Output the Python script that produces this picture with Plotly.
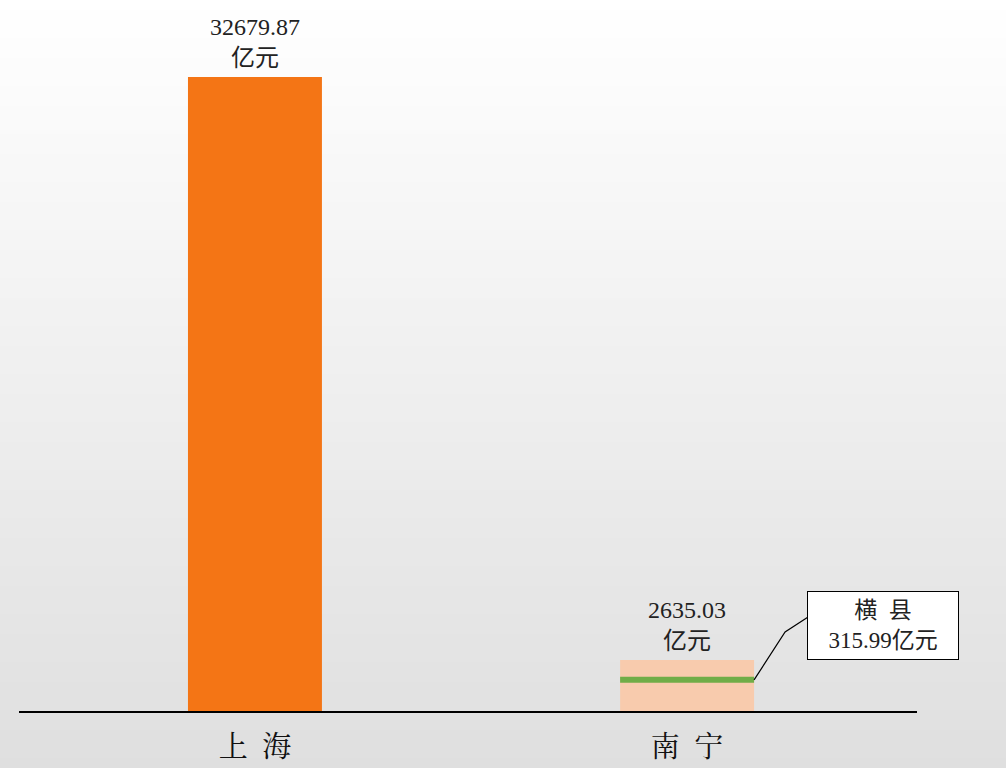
import plotly.graph_objects as go

# ---- data ----
categories = ["上海", "南宁"]
tick_labels = ["上\u2002海", "南\u2002宁"]
gdp_values = [32679.87, 2635.03]          # 亿元
value_labels = ["32679.87<br>亿元", "2635.03<br>亿元"]
hengxian_value = 315.99                   # 亿元
hengxian_label = "横\u2002县<br>315.99亿元"
hengxian_band = [1450.0, 1760.0]          # drawn level of the green marker

bar_colors = ["#f47515", "#f8cbad"]
green = "#70ad47"

W, H = 1006, 768
ml, mr, mt, mb = 19, 89, 0, 57
plot_h = H - mt - mb
y_top = gdp_values[0] * plot_h / 634.0

fig = go.Figure()

fig.add_trace(go.Bar(
    x=[0, 1], y=gdp_values, width=0.31,
    marker=dict(color=bar_colors, line=dict(width=0)),
    hoverinfo="skip",
))

# green marker for 横县 inside 南宁 bar
fig.add_trace(go.Bar(
    x=[1], y=[hengxian_band[1] - hengxian_band[0]], base=[hengxian_band[0]],
    width=0.31, marker=dict(color=green, line=dict(width=0)), hoverinfo="skip",
))

# gradient background
n = 80
y0p = -mb / plot_h
for i in range(n):
    a = y0p + (1 - y0p) * i / n
    b = y0p + (1 - y0p) * (i + 1) / n
    t = 1 - (i + 0.5) / n  # 0 at top, 1 at bottom
    c = int(round(255 - (255 - 223) * t))
    fig.add_shape(type="rect", xref="paper", yref="paper", x0=-0.05, x1=1.2,
                  y0=a, y1=b + 0.001, fillcolor=f"rgb({c},{c},{c})",
                  line=dict(width=0), layer="below")

# value labels
for i, (v, lab) in enumerate(zip(gdp_values, value_labels)):
    fig.add_annotation(x=i, y=v, text=lab, showarrow=False, yanchor="bottom",
                       yshift=4,
                       font=dict(family="Liberation Serif, Noto Sans CJK SC", size=24, color="#222"))

# leader line (bent)
mid_level = (hengxian_band[0] + hengxian_band[1]) / 2
fig.add_shape(type="path", xref="x", yref="y",
              path=(f"M {1 + 0.155},{mid_level} "
                    f"L {1 + 0.155 + 31/432},{(711-632)*y_top/plot_h} "
                    f"L {1 + 0.155 + 54/432},{(711-617)*y_top/plot_h}"),
              line=dict(color="black", width=1.2))

# callout box
fig.add_annotation(xref="paper", yref="paper", x=(883 - ml) / (W - ml - mr),
                   y=(711 - 625) / plot_h, xanchor="center", yanchor="middle",
                   text=hengxian_label, showarrow=False,
                   bgcolor="white", bordercolor="black", borderwidth=1, borderpad=6,
                   width=138, align="center",
                   font=dict(family="Liberation Serif, Noto Sans CJK SC", size=23, color="#222"))

fig.update_layout(
    width=W, height=H,
    margin=dict(l=ml, r=mr, t=mt, b=mb),
    paper_bgcolor="rgba(0,0,0,0)",
    plot_bgcolor="rgba(0,0,0,0)",
    showlegend=False,
    barmode="overlay",
    xaxis=dict(range=[-0.546, 1.532], tickvals=[0, 1], ticktext=tick_labels,
               showline=True, linecolor="black", linewidth=1.5, showgrid=False,
               zeroline=False, ticks="", ticklabelstandoff=9,
               tickfont=dict(family="Noto Serif CJK SC, Noto Sans CJK SC", size=29, color="#111")),
    yaxis=dict(range=[0, y_top], visible=False, showgrid=False, zeroline=False),
)

fig.write_html("out.html", config={"displayModeBar": False},
               post_script="document.body.style.margin='0';document.body.style.overflow='hidden';")
